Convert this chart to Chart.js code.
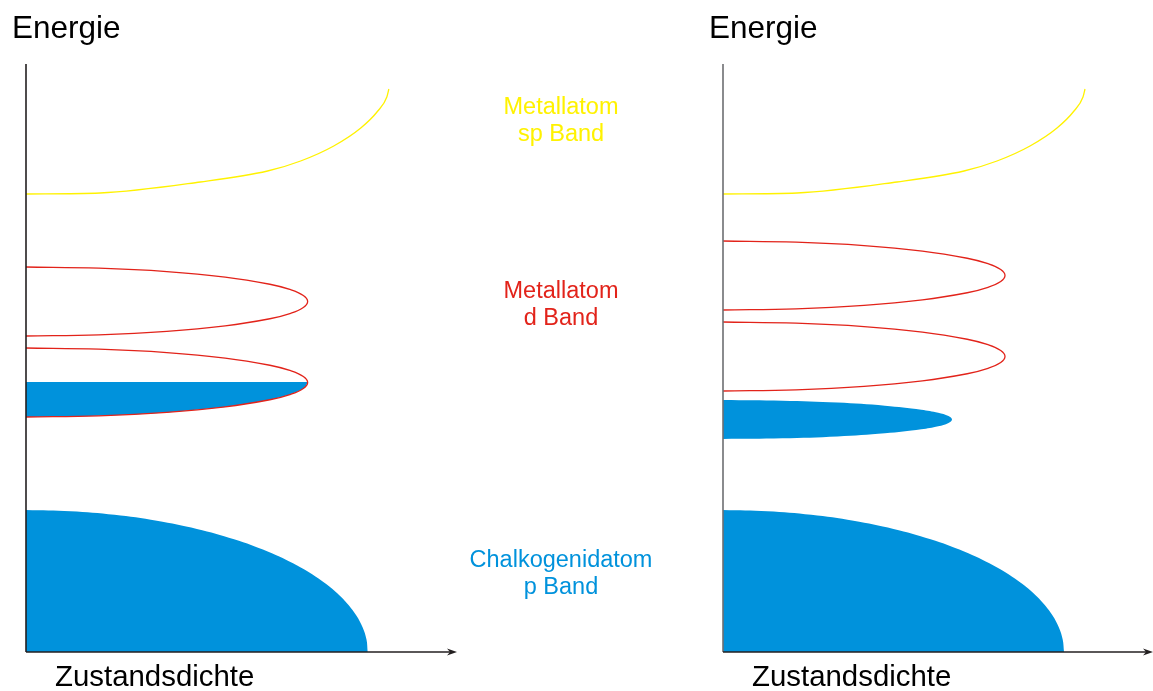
<!DOCTYPE html>
<html>
<head>
<meta charset="utf-8">
<script src="https://cdn.jsdelivr.net/npm/chart.js@4.4.0/dist/chart.umd.min.js"></script>
<style>
  body { margin: 0; background: #fff; width: 1153px; height: 691px; overflow: hidden; position: relative; }
  canvas { position: absolute; top: 0; }
</style>
</head>
<body>
<canvas id="left" width="697" height="691" style="left:0"></canvas>
<canvas id="right" width="456" height="691" style="left:697px"></canvas>
<script>
// density of states (x) against energy (y), arbitrary units
var spBand = [[0,458],[74,459],[174,470],[241,481],[274,491],[307,506],[334,524],[351,541],[360,555],[362,563]];
var pBand = [[0,142],[44.5,140.8],[88.3,137.2],[130.5,131.2],[170.5,123],[207.6,112.7],[241.1,100.4],[270.5,86.4],[295.3,71],
  [309.1,60],[320.4,48.6],[329.4,36.8],[335.8,24.7],[339.7,12.4],[341,0]];

// left: d band split in two, lower part half filled
var dUpperLeft = [[0,385],[72.7,383.8],[140.5,380.4],[198.7,374.9],[243.3,367.75],[264.1,362.3],[276.7,356.5],[281,350.5],
  [276.7,344.5],[264.1,338.7],[243.3,333.25],[198.7,326.1],[140.5,320.6],[72.7,317.2],[0,316]];
var dLowerLeft = [[0,304],[72.7,302.8],[140.5,299.4],[198.7,293.9],[243.3,286.75],[264.1,281.3],[276.7,275.5],[281,269.5],
  [276.7,263.5],[264.1,257.7],[243.3,252.25],[198.7,245.1],[140.5,239.6],[72.7,236.2],[0,235]];
var dFilledLeft = [[0,270],[281,270],[279.5,266.5],[276.7,263.5],[271,260.5],[264.1,257.7],[255,255],[243.3,252.25],[222,248.5],
  [198.7,245.1],[170,242.2],[140.5,239.6],[107,237.6],[72.7,236.2],[36,235.3],[0,235]];

// right: empty d bands, separate filled band below
var dUpperRight = [[0,411],[73,409.8],[141,406.4],[199.4,400.9],[244.2,393.75],[265,388.3],[277.7,382.5],[282,376.5],
  [277.7,370.5],[265,364.7],[244.2,359.25],[199.4,352.1],[141,346.6],[73,343.2],[0,342]];
var dLowerRight = [[0,330],[73,328.8],[141,325.4],[199.4,319.9],[244.2,312.75],[265,307.3],[277.7,301.5],[282,295.5],
  [277.7,289.5],[265,283.7],[244.2,278.25],[199.4,271.1],[141,265.6],[73,262.2],[0,261]];
var filledRight = [[0,252],[59.3,251.3],[114.5,249.4],[161.9,246.3],[198.3,242.25],[215.2,239.2],[225.5,235.9],[229,232.5],
  [225.5,229.1],[215.2,225.8],[198.3,222.75],[161.9,218.7],[114.5,215.6],[59.3,213.7],[0,213]];

var bandNames = [['Metallatom', 'sp Band'], ['Metallatom', 'd Band'], ['Chalkogenidatom', 'p Band']];

var YELLOW = '#fff200', RED = '#e2231a', BLUE = '#0092dc', INK = '#231f20';
var FONT = '"Liberation Sans", Arial, sans-serif';

function pts(arr) {
  return arr.map(function (p) { return { x: p[0], y: p[1] }; });
}

function outline(arr, color) {
  return { data: pts(arr), borderColor: color, borderWidth: 1.3, tension: 0.4, fill: false, clip: false };
}

function filled(arr, tension) {
  return { data: pts(arr), borderWidth: 0, borderColor: BLUE, backgroundColor: BLUE, tension: tension, fill: 'shape', clip: false };
}

var axesPlugin = {
  id: 'axes',
  afterDatasetsDraw: function (chart, args, opts) {
    var ctx = chart.ctx, a = chart.chartArea;
    var x0 = chart.scales.x.getPixelForValue(0);
    var y0 = chart.scales.y.getPixelForValue(0);
    ctx.save();
    ctx.lineWidth = 1.6;
    ctx.strokeStyle = opts.yColor;
    ctx.beginPath();
    ctx.moveTo(x0, a.top);
    ctx.lineTo(x0, y0);
    ctx.stroke();
    ctx.strokeStyle = INK;
    ctx.beginPath();
    ctx.moveTo(x0, y0);
    ctx.lineTo(a.right - 6, y0);
    ctx.stroke();
    ctx.fillStyle = INK;
    ctx.beginPath();
    ctx.moveTo(a.right, y0);
    ctx.lineTo(a.right - 10, y0 - 3.5);
    ctx.lineTo(a.right - 7, y0);
    ctx.lineTo(a.right - 10, y0 + 3.5);
    ctx.closePath();
    ctx.fill();

    ctx.fillStyle = '#000';
    ctx.textBaseline = 'alphabetic';
    ctx.textAlign = 'left';
    ctx.font = '31.5px ' + FONT;
    ctx.fillText('Energie', a.left - 14, 38);
    ctx.font = '29.4px ' + FONT;
    ctx.fillText('Zustandsdichte', a.left + 29, 686);

    if (opts.labels) {
      var ys = chart.scales.y;
      ctx.textAlign = 'center';
      ctx.font = '23.5px ' + FONT;
      opts.labels.forEach(function (l) {
        ctx.fillStyle = l.color;
        var y = ys.getPixelForValue(l.energy);
        bandNames[l.band].forEach(function (line, i) {
          ctx.fillText(line, a.right + 104, y + i * 26.5);
        });
      });
    }
    ctx.restore();
  }
};

function makeChart(id, datasets, xMax, padRight, yColor, labels) {
  return new Chart(document.getElementById(id), {
    type: 'scatter',
    data: { datasets: datasets },
    options: {
      responsive: false,
      animation: false,
      showLine: true,
      elements: { point: { radius: 0, hoverRadius: 0 } },
      layout: { padding: { left: 26, right: padRight, top: 64, bottom: 39 } },
      scales: {
        x: { type: 'linear', display: false, min: 0, max: xMax },
        y: { type: 'linear', display: false, min: 0, max: 588 }
      },
      plugins: {
        legend: { display: false },
        tooltip: { enabled: false },
        axes: { yColor: yColor, labels: labels }
      }
    },
    plugins: [axesPlugin]
  });
}

function spLine() {
  return Object.assign(outline(spBand, YELLOW), { cubicInterpolationMode: 'monotone' });
}

function pFill() {
  return Object.assign(filled(pBand, 0.4), { fill: 'origin' });
}

makeChart('left', [
  spLine(),
  outline(dUpperLeft, RED),
  outline(dLowerLeft, RED),
  filled(dFilledLeft, 0),
  pFill()
], 430, 240, INK, [
  { band: 0, energy: 538, color: YELLOW },
  { band: 1, energy: 354, color: RED },
  { band: 2, energy: 85, color: BLUE }
]);

makeChart('right', [
  spLine(),
  outline(dUpperRight, RED),
  outline(dLowerRight, RED),
  filled(filledRight, 0.4),
  pFill()
], 430, 0, '#6d6e71', null);
</script>
</body>
</html>
